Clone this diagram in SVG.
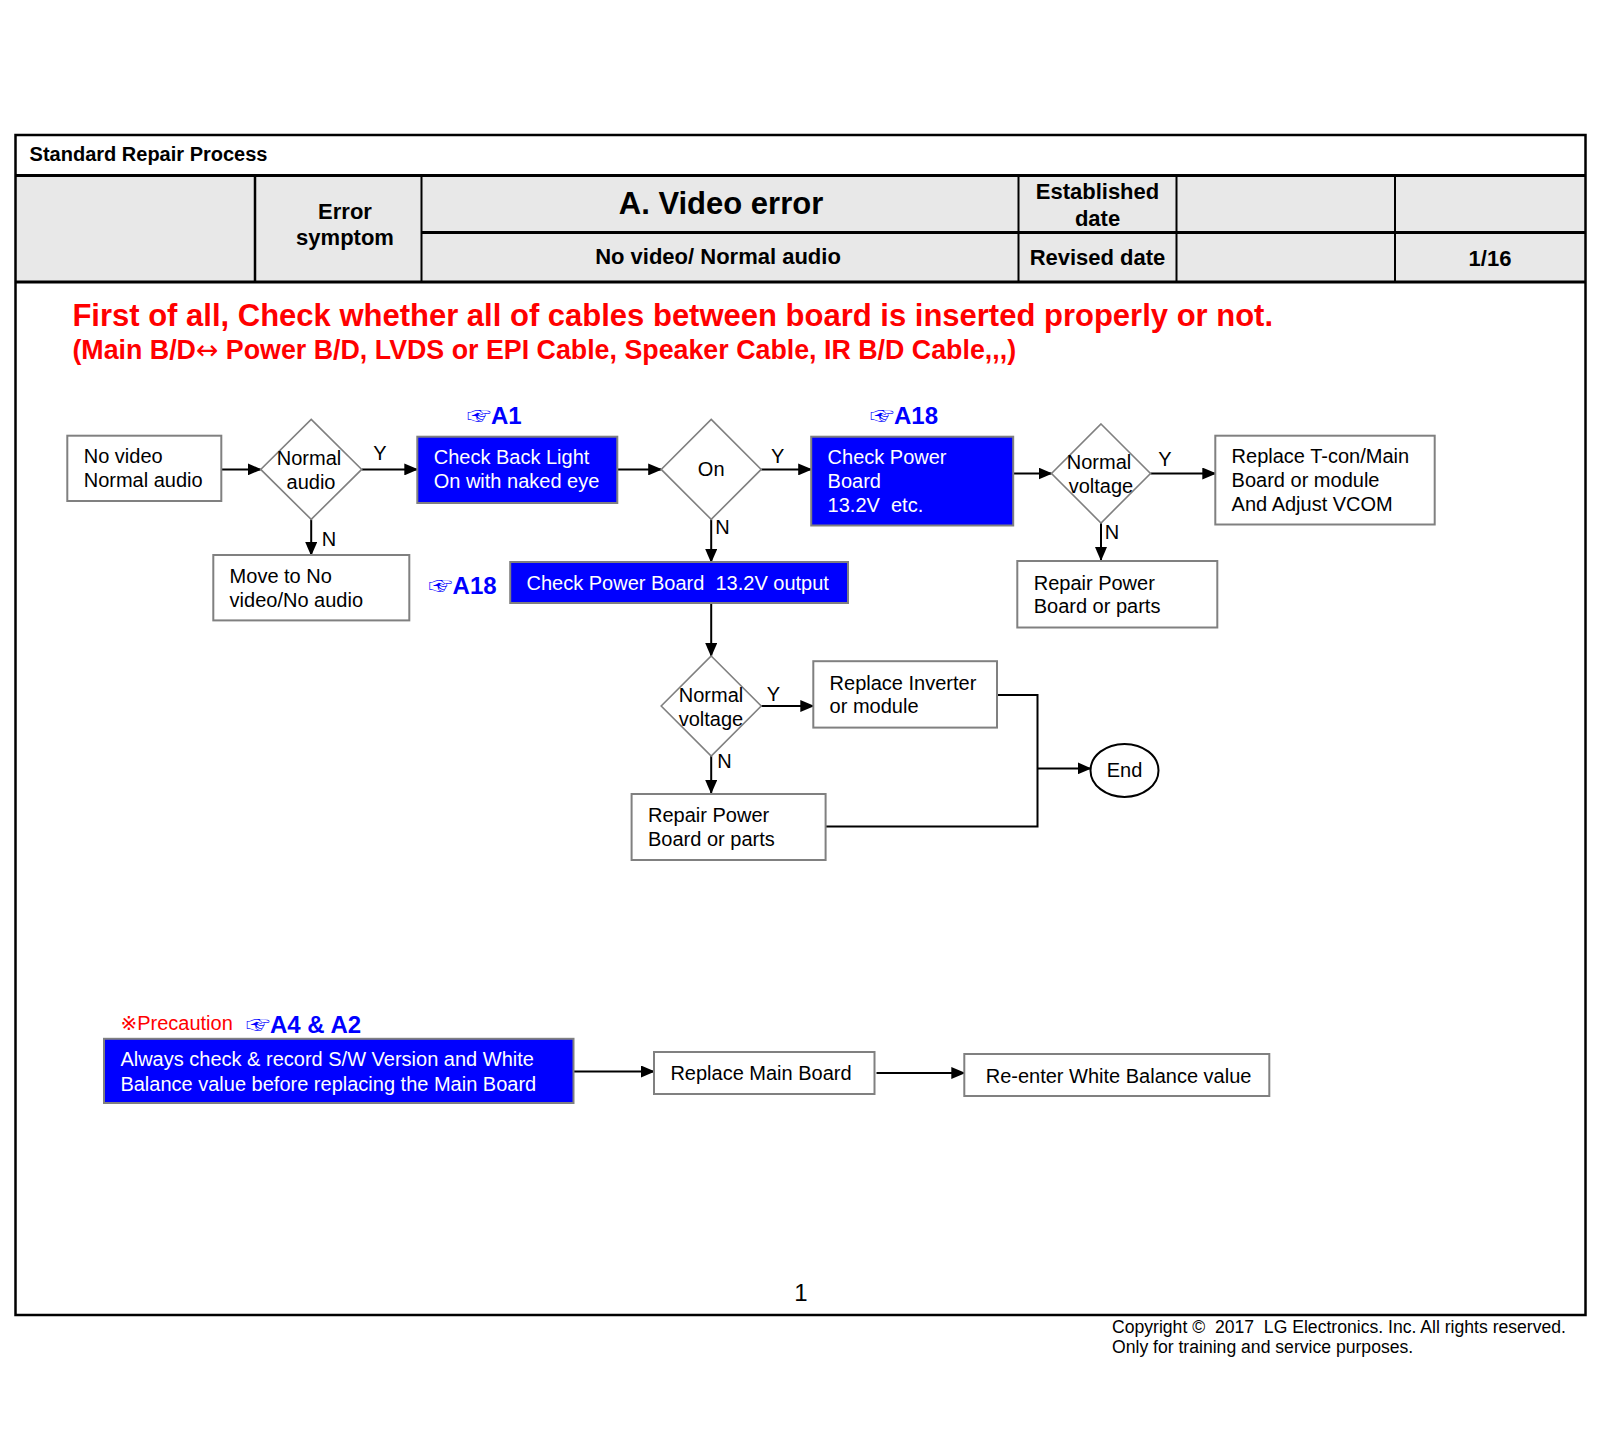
<svg xmlns="http://www.w3.org/2000/svg" width="1600" height="1449" viewBox="0 0 1600 1449">
<defs>
<style>
text{font-family:"Liberation Sans","DejaVu Sans","Noto Sans CJK JP",sans-serif;white-space:pre;}
.hb{font-weight:bold;font-size:22px;fill:#000;}
.t{font-size:20px;fill:#000;}
.tw{font-size:20px;fill:#fff;}
.box{fill:#fff;stroke:#808080;stroke-width:2;}
.bbox{fill:#0000ff;stroke:#808080;stroke-width:2;}
.dia{fill:#fff;stroke:#808080;stroke-width:1.6;}
.ref{font-size:24px;font-weight:bold;fill:#0000ff;}
.hand{font-family:"Noto Sans CJK JP","DejaVu Sans",sans-serif;font-size:24px;font-weight:bold;}
.conn line,.conn polyline{stroke:#000;stroke-width:2;fill:none;}
.grid{stroke:#000;fill:none;}
</style>
<marker id="ah" markerUnits="userSpaceOnUse" markerWidth="14" markerHeight="12" refX="13" refY="6" orient="auto">
<path d="M0,0 L14,6 L0,12 Z" fill="#000"/>
</marker>
</defs>
<rect width="1600" height="1449" fill="#fff"/>

<g id="header">
<rect x="15.5" y="175.5" width="1570" height="107" fill="#e8e8e8"/>
<rect x="15.5" y="135" width="1570" height="1180" class="grid" stroke-width="2.5"/>
<line x1="15" y1="175.5" x2="1586" y2="175.5" class="grid" stroke-width="3"/>
<line x1="15" y1="282" x2="1586" y2="282" class="grid" stroke-width="3"/>
<line x1="255" y1="175" x2="255" y2="282" class="grid" stroke-width="2.5"/>
<line x1="421.5" y1="175" x2="421.5" y2="282" class="grid" stroke-width="2"/>
<line x1="1018.5" y1="175" x2="1018.5" y2="282" class="grid" stroke-width="2"/>
<line x1="1176.5" y1="175" x2="1176.5" y2="282" class="grid" stroke-width="2"/>
<line x1="1395" y1="175" x2="1395" y2="282" class="grid" stroke-width="2"/>
<line x1="421.5" y1="232.5" x2="1586" y2="232.5" class="grid" stroke-width="3"/>
<text x="29.6" y="161" font-weight="bold" font-size="20">Standard Repair Process</text>
<text x="345" y="218.5" class="hb" text-anchor="middle">Error</text>
<text x="345" y="245" class="hb" text-anchor="middle">symptom</text>
<text x="721" y="214" font-weight="bold" font-size="31" text-anchor="middle">A. Video error</text>
<text x="718" y="263.5" class="hb" text-anchor="middle">No video/ Normal audio</text>
<text x="1097.5" y="198.5" class="hb" text-anchor="middle">Established</text>
<text x="1097.5" y="225.5" class="hb" text-anchor="middle">date</text>
<text x="1097.5" y="264.5" class="hb" text-anchor="middle">Revised date</text>
<text x="1490" y="265.5" class="hb" text-anchor="middle">1/16</text>
</g>

<g id="notice">
<text x="72.4" y="326" font-weight="bold" font-size="31" fill="#ff0000">First of all, Check whether all of cables between board is inserted properly or not.</text>
<text x="72.4" y="359" font-weight="bold" font-size="26.8" fill="#ff0000">(Main B/D<tspan font-family="DejaVu Sans" font-weight="normal">↔</tspan> Power B/D, LVDS or EPI Cable, Speaker Cable, IR B/D Cable,,,)</text>
</g>

<g id="connectors" class="conn">
<line x1="221.4" y1="469.4" x2="260.7" y2="469.4" marker-end="url(#ah)"/>
<line x1="361.7" y1="469.4" x2="417.3" y2="469.4" marker-end="url(#ah)"/>
<line x1="617.3" y1="469.4" x2="661.2" y2="469.4" marker-end="url(#ah)"/>
<line x1="761.2" y1="469.4" x2="811.2" y2="469.4" marker-end="url(#ah)"/>
<line x1="1013.3" y1="473.5" x2="1051.5" y2="473.5" marker-end="url(#ah)"/>
<line x1="1150.5" y1="473.5" x2="1215.3" y2="473.5" marker-end="url(#ah)"/>
<line x1="1101" y1="523" x2="1101" y2="560" marker-end="url(#ah)"/>
<line x1="311.2" y1="519.4" x2="311.2" y2="555" marker-end="url(#ah)"/>
<line x1="711.2" y1="519.4" x2="711.2" y2="562" marker-end="url(#ah)"/>
<line x1="711.2" y1="603" x2="711.2" y2="656" marker-end="url(#ah)"/>
<line x1="761.2" y1="706" x2="813.3" y2="706" marker-end="url(#ah)"/>
<line x1="711.2" y1="756" x2="711.2" y2="793" marker-end="url(#ah)"/>
<polyline points="997,695 1037.5,695 1037.5,826.5 825.5,826.5"/>
<line x1="1037.5" y1="768.4" x2="1090.5" y2="768.4" marker-end="url(#ah)"/>
<line x1="573.5" y1="1071.5" x2="654" y2="1071.5" marker-end="url(#ah)"/>
<line x1="876.5" y1="1073" x2="964.3" y2="1073" marker-end="url(#ah)"/>
</g>

<g id="labels">
<text x="380" y="460" class="t" text-anchor="middle">Y</text>
<text x="329" y="545.8" class="t" text-anchor="middle">N</text>
<text x="777.6" y="463" class="t" text-anchor="middle">Y</text>
<text x="722.5" y="533.5" class="t" text-anchor="middle">N</text>
<text x="1165" y="466" class="t" text-anchor="middle">Y</text>
<text x="1112" y="538.6" class="t" text-anchor="middle">N</text>
<text x="773.5" y="701" class="t" text-anchor="middle">Y</text>
<text x="724.5" y="768" class="t" text-anchor="middle">N</text>
</g>

<g id="n-start">
<rect x="67.3" y="435.7" width="154" height="65.3" class="box"/>
<text x="83.7" y="463" class="t">No video</text>
<text x="83.7" y="487" class="t">Normal audio</text>
</g>
<g id="d-audio">
<polygon points="311.2,419.4 361.7,469.4 311.2,519.4 260.7,469.4" class="dia"/>
<text x="309" y="465" class="t" text-anchor="middle">Normal</text>
<text x="311" y="489" class="t" text-anchor="middle">audio</text>
</g>
<g id="n-backlight">
<text x="467" y="424" class="ref"><tspan class="hand">☞</tspan>A1</text>
<rect x="417.3" y="436.7" width="200" height="66.3" class="bbox"/>
<text x="433.7" y="464" class="tw">Check Back Light</text>
<text x="433.7" y="487.6" class="tw">On with naked eye</text>
</g>
<g id="d-on">
<polygon points="711.2,419.4 761.2,469.4 711.2,519.4 661.2,469.4" class="dia"/>
<text x="711.2" y="476" class="t" text-anchor="middle">On</text>
</g>
<g id="n-checkpower">
<text x="870" y="424" class="ref"><tspan class="hand">☞</tspan>A18</text>
<rect x="811.2" y="436.7" width="202" height="88.8" class="bbox"/>
<text x="827.6" y="464" class="tw">Check Power</text>
<text x="827.6" y="487.6" class="tw">Board</text>
<text x="827.6" y="512" class="tw" xml:space="preserve">13.2V  etc.</text>
</g>
<g id="d-voltage1">
<polygon points="1101,424 1150.5,473.5 1101,523 1051.5,473.5" class="dia"/>
<text x="1099" y="469" class="t" text-anchor="middle">Normal</text>
<text x="1101" y="493" class="t" text-anchor="middle">voltage</text>
</g>
<g id="n-tcon">
<rect x="1215.3" y="435.7" width="219.4" height="88.8" class="box"/>
<text x="1231.6" y="463" class="t">Replace T-con/Main</text>
<text x="1231.6" y="487" class="t">Board or module</text>
<text x="1231.6" y="511" class="t">And Adjust VCOM</text>
</g>
<g id="n-repair1">
<rect x="1017.3" y="561" width="200" height="66.5" class="box"/>
<text x="1033.7" y="589.6" class="t">Repair Power</text>
<text x="1033.7" y="613" class="t">Board or parts</text>
</g>
<g id="n-move">
<rect x="213.3" y="555" width="196" height="65.4" class="box"/>
<text x="229.6" y="582.5" class="t">Move to No</text>
<text x="229.6" y="607" class="t">video/No audio</text>
</g>
<g id="n-checkoutput">
<text x="428.6" y="593.7" class="ref"><tspan class="hand">☞</tspan>A18</text>
<rect x="510.2" y="562" width="337.8" height="41" class="bbox"/>
<text x="526.5" y="589.6" class="tw" xml:space="preserve">Check Power Board  13.2V output</text>
</g>
<g id="d-voltage2">
<polygon points="711.2,656 761.2,706 711.2,756 661.2,706" class="dia"/>
<text x="711" y="702" class="t" text-anchor="middle">Normal</text>
<text x="711" y="726" class="t" text-anchor="middle">voltage</text>
</g>
<g id="n-inverter">
<rect x="813.3" y="661.2" width="183.7" height="66.4" class="box"/>
<text x="829.6" y="689.6" class="t">Replace Inverter</text>
<text x="829.6" y="713" class="t">or module</text>
</g>
<g id="n-repair2">
<rect x="631.6" y="794" width="194" height="66" class="box"/>
<text x="648" y="822" class="t">Repair Power</text>
<text x="648" y="846" class="t">Board or parts</text>
</g>
<g id="n-end">
<ellipse cx="1124.5" cy="770.4" rx="34" ry="26.5" fill="#fff" stroke="#000" stroke-width="2"/>
<text x="1124.5" y="777" class="t" text-anchor="middle">End</text>
</g>

<g id="n-precaution">
<text x="120.4" y="1029.5" font-size="20" fill="#ff0000">※Precaution</text>
<text x="246" y="1032.6" class="ref"><tspan class="hand">☞</tspan>A4 &amp; A2</text>
<rect x="104" y="1038.8" width="469.5" height="64.2" class="bbox"/>
<text x="120.4" y="1066" class="tw">Always check &amp; record S/W Version and White</text>
<text x="120.4" y="1090.7" class="tw">Balance value before replacing the Main Board</text>
</g>
<g id="n-replacemain">
<rect x="654" y="1052" width="220.5" height="42" class="box"/>
<text x="670.4" y="1079.5" class="t">Replace Main Board</text>
</g>
<g id="n-reenter">
<rect x="964.3" y="1054" width="305" height="42" class="box"/>
<text x="985.7" y="1082.5" class="t">Re-enter White Balance value</text>
</g>

<g id="footer">
<text x="801" y="1301" font-size="24" text-anchor="middle">1</text>
<text x="1112" y="1332.5" font-size="17.6" xml:space="preserve">Copyright ©  2017  LG Electronics. Inc. All rights reserved.</text>
<text x="1112" y="1353" font-size="17.6">Only for training and service purposes.</text>
</g>
</svg>
